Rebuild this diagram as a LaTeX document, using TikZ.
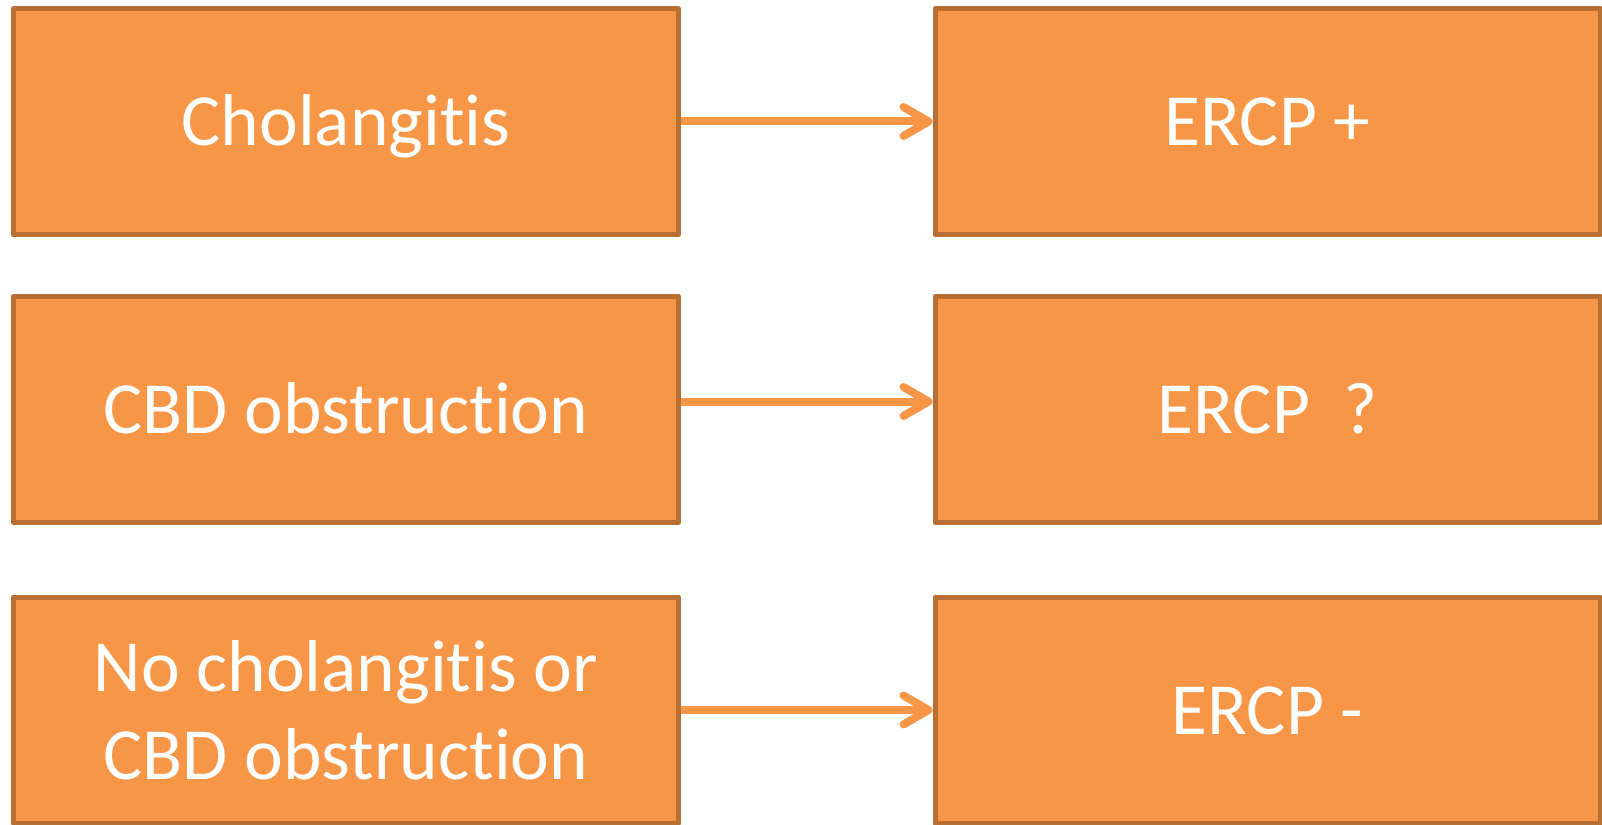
\documentclass[tikz,border=0pt]{standalone}
\usepackage{fontspec}
\setmainfont{Carlito}[Ligatures={NoCommon,NoContextual}]
\usetikzlibrary{arrows.meta,backgrounds}
\definecolor{boxfill}{HTML}{F79646}
\definecolor{boxline}{HTML}{B86F34}
\begin{document}
\begin{tikzpicture}[x=1pt,y=-1pt,
  box/.style={draw=boxline, fill=boxfill, line width=5pt, line join=round,
    minimum width=665pt, minimum height=226pt, inner sep=0pt,
    text height=49pt, text depth=0pt,
    text=white, align=center, font=\fontsize{73.5}{88}\selectfont},
  twolines/.style={text height=138pt},
  link/.style={draw=boxfill, line width=8pt,
    -{Straight Barb[length=25pt,width=29pt,line cap=round,line join=round]}}]
\useasboundingbox (0,0) rectangle (1602,824);
% left column
\node[box] (l1) at (346,121.5) {Cholangitis};
\node[box] (l2) at (346,409) {CBD obstruction};
\node[box, twolines] (l3) at (346,710) {No cholangitis or\\CBD obstruction};
% right column
\node[box] (r1) at (1267.5,121.5) {ERCP +};
\node[box] (r2) at (1267.5,409) {ERCP \ ?};
\node[box] (r3) at (1267.5,710) {ERCP -};
% connectors sit behind the box borders
\begin{scope}[on background layer]
\draw[link] (l1.east) -- (r1.west);
\draw[link] ([yshift=7.5pt]l2.east) -- ([yshift=7.5pt]r2.west);
\draw[link] (l3.east) -- (r3.west);
\end{scope}
\end{tikzpicture}
\end{document}
